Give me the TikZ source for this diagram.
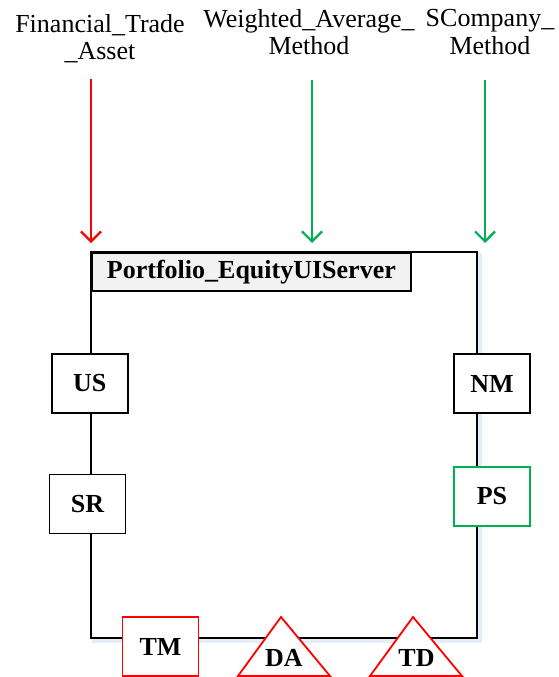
\documentclass[tikz,border=0pt]{standalone}
\usepackage{fontspec}
\setmainfont{Liberation Serif}
\usetikzlibrary{arrows.meta, positioning}
\definecolor{InRed}{RGB}{255,0,0}
\definecolor{InGreen}{RGB}{0,176,80}
\definecolor{TitleGray}{RGB}{242,242,242}
\definecolor{ShadowBlue}{RGB}{230,237,248}
\newcommand{\labelfont}{\fontsize{26}{27.5}\selectfont}
\tikzstyle{inarrow} = [line width=2.2pt, -{Straight Barb[length=10pt,width=20pt]}]
\tikzstyle{port} = [draw, line width=1.8pt, fill=white, minimum width=76pt, minimum height=59pt, inner sep=0pt, font=\labelfont\bfseries]
\tikzstyle{tri} = [draw=InRed, line width=1.8pt, fill=white]
\tikzstyle{extlabel} = [align=center, inner sep=0pt, anchor=north, font=\labelfont]

\begin{document}
\begin{tikzpicture}[x=1pt, y=-1pt]
\useasboundingbox (0,0) rectangle (559,677);

% Server outline with its soft shadow
\draw[line width=4pt, ShadowBlue] (94,255) rectangle (480,641);
\draw[line width=2.2pt, fill=white] (91,252) rectangle (477,638);
\node[draw, line width=1.8pt, fill=TitleGray, anchor=north west, minimum width=319pt, minimum height=38pt, inner sep=0pt, font=\labelfont\bfseries] (title) at (91,252) {Portfolio\_EquityUIServer};

% Required interfaces
\node[extlabel] (fta) at (100,14) {Financial\_Trade\\\_Asset};
\node[extlabel] (wam) at (309,9) {Weighted\_Average\_\\Method};
\node[extlabel] (scm) at (490,9.5) {SCompany\_\\Method};
\coordinate (fta-top) at (91,79);
\coordinate (fta-in) at (91,243);
\coordinate (wam-top) at (312,80);
\coordinate (wam-in) at (312,243);
\coordinate (scm-top) at (485,80);
\coordinate (scm-in) at (485,243);
\draw[inarrow, InRed] (fta-top) -- (fta-in);
\draw[inarrow, InGreen] (wam-top) -- (wam-in);
\draw[inarrow, InGreen] (scm-top) -- (scm-in);

% Ports on the sides
\node[port] (US) at (89.7,383.5) {US};
\node[port] (SR) at (87.5,504) {SR};
\node[port] (NM) at (492,383.5) {NM};
\node[port, draw=InGreen] (PS) at (492,496.5) {PS};
\node[port, draw=InRed] (TM) at (160.5,646.5) {TM};

% Triangle ports along the bottom
\draw[tri] (238,676) -- (281,617) -- (330,676) -- cycle;
\node[font=\labelfont\bfseries] (DA) at (284,658) {DA};
\draw[tri] (370,676) -- (413,617) -- (462,676) -- cycle;
\node[font=\labelfont\bfseries] (TD) at (416.5,658) {TD};
\end{tikzpicture}
\end{document}
